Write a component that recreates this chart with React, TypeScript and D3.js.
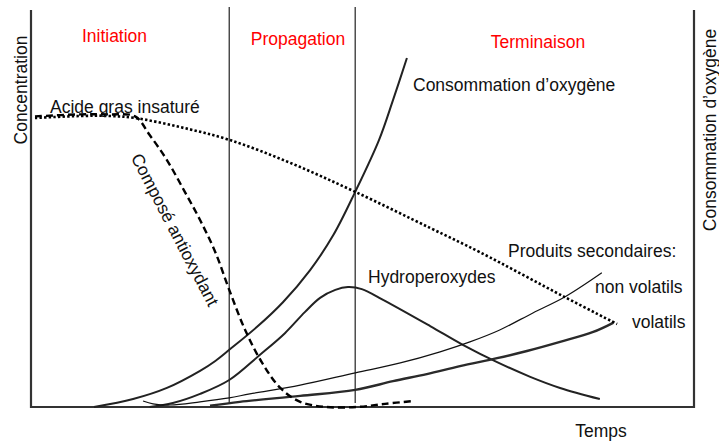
import { useEffect, useRef } from "react";
import * as d3 from "d3";

// time axis (0-100) and concentration axis (0-100)
const acideT = [0.6, 7.4, 11.9, 15.7, 22.5, 29.9, 39.1, 48.9, 60.2, 67.7, 80.5, 88.4];
const acideC = [72.8, 73.3, 73.3, 72.8, 70.5, 67.3, 61.5, 54.2, 45.1, 39.0, 27.7, 20.9];

const antioxT = [0.6, 7.4, 11.9, 15.7, 17.9, 20.5, 23.2, 25.5, 27.8, 29.9, 32.3, 34.8, 37.6, 40.6, 44.6, 49.2, 53.4, 57.6];
const antioxC = [73.2, 73.7, 73.7, 73.2, 68.5, 62.2, 54.2, 47.1, 39.0, 29.5, 19.4, 11.3, 4.8, 1.3, 0, 0, 0.8, 1.5];

const oxygenT = [9.5, 15.4, 20.5, 25.5, 27.8, 29.9, 34.1, 38.0, 42.1, 45.6, 48.9, 52.5, 54.6, 56.7];
const oxygenC = [0, 2.0, 4.8, 9.1, 11.6, 14.4, 20.2, 26.4, 34.5, 43.3, 54.2, 67.3, 77.3, 87.9];

const hydroT = [17.9, 21.4, 25.5, 29.9, 34.5, 38.3, 41.3, 43.6, 45.9, 47.8, 49.9, 53.1, 60.2, 65.2, 70.3, 75.3, 79.8, 85.8];
const hydroC = [0, 1.0, 3.3, 6.8, 13.1, 18.6, 23.9, 27.5, 29.5, 30.2, 29.7, 27.0, 20.4, 15.6, 11.3, 7.6, 4.8, 2.0];

const nonVolT = [16.9, 18.4, 21.0, 25.5, 29.9, 33.0, 40.6, 48.9, 55.7, 61.7, 66.2, 70.7, 75.7, 80.5, 86.1];
const nonVolC = [1.5, 0.8, 0.5, 1.3, 2.3, 3.3, 5.5, 8.6, 11.1, 13.9, 16.4, 19.4, 23.7, 27.7, 33.8];

const volT = [27.0, 31.5, 40.6, 48.9, 54.6, 59.7, 64.7, 70.3, 74.8, 79.8, 84.8, 87.8];
const volC = [0.3, 1.3, 2.8, 4.3, 6.5, 8.3, 10.3, 12.3, 14.1, 16.4, 18.9, 21.2];

const phaseBounds = [29.9, 48.9];
const phaseNames = ["Initiation", "Propagation", "Terminaison"];

export default function App() {
  const svgRef = useRef<SVGSVGElement>(null);

  useEffect(() => {
    if (!svgRef.current) return;
    const svg = d3.select(svgRef.current);
    svg.selectAll("*").remove();

    const left = 31;
    const right = 694;
    const top = 10;
    const bottom = 407;
    const font = "'Liberation Sans', Arial, sans-serif";

    const x = d3.scaleLinear().domain([0, 100]).range([left, right]);
    const y = d3.scaleLinear().domain([0, 100]).range([bottom, top]);

    const line = d3
      .line<[number, number]>()
      .x((d) => x(d[0]))
      .y((d) => Math.min(y(d[1]), bottom))
      .curve(d3.curveCatmullRom.alpha(0.5));

    const zip = (a: number[], b: number[]) => a.map((v, i) => [v, b[i]] as [number, number]);

    // phase dividers
    phaseBounds.forEach((b) => {
      svg.append("line")
        .attr("x1", x(b)).attr("x2", x(b))
        .attr("y1", 7).attr("y2", bottom - 4)
        .attr("stroke", "#333").attr("stroke-width", 1.3);
    });

    // frame: left, bottom, right axes
    svg.append("path")
      .attr("d", `M${left},${top}V${bottom}H${right}V${top}`)
      .attr("fill", "none")
      .attr("stroke", "#333")
      .attr("stroke-width", 2.2);

    const series = [
      { t: oxygenT, c: oxygenC, w: 2, col: "#222", dash: null },
      { t: hydroT, c: hydroC, w: 2, col: "#222", dash: null },
      { t: nonVolT, c: nonVolC, w: 1.2, col: "#111", dash: null },
      { t: volT, c: volC, w: 2.4, col: "#2a2a2a", dash: null },
      { t: acideT, c: acideC, w: 2.6, col: "#000", dash: "2.4,2.2" },
      { t: antioxT, c: antioxC, w: 2.4, col: "#000", dash: "7,4" },
    ];
    series.forEach((s) => {
      svg.append("path")
        .attr("d", line(zip(s.t, s.c)))
        .attr("fill", "none")
        .attr("stroke", s.col)
        .attr("stroke-width", s.w)
        .attr("stroke-dasharray", s.dash);
    });

    // phase labels
    const phaseX = [114.5, 298, 538];
    const phaseY = [42, 45, 48];
    phaseNames.forEach((n, i) => {
      svg.append("text")
        .attr("x", phaseX[i]).attr("y", phaseY[i])
        .attr("text-anchor", "middle")
        .attr("fill", "#ff0000")
        .attr("font-family", font).attr("font-size", 17.5)
        .text(n);
    });

    const labels: [string, number, number, string][] = [
      ["Consommation d\u2019oxygène", 413, 91, "start"],
      ["Acide gras insaturé", 50, 113, "start"],
      ["Hydroperoxydes", 368, 283, "start"],
      ["Produits secondaires:", 508, 257, "start"],
      ["non volatils", 595, 293, "start"],
      ["volatils", 632, 328, "start"],
      ["Temps", 601, 437, "middle"],
    ];
    labels.forEach(([t, lx, ly, anchor]) => {
      svg.append("text")
        .attr("x", lx).attr("y", ly)
        .attr("text-anchor", anchor)
        .attr("fill", "#111")
        .attr("font-family", font).attr("font-size", 17.5)
        .text(t);
    });

    // rotated labels
    const rotated: [string, number, number, number, string][] = [
      ["Concentration", 27, 90, -90, "middle"],
      ["Consommation d\u2019oxygène", 716, 130, -90, "middle"],
      ["Composé antioxydant", 130.5, 157.4, 62.5, "start"],
    ];
    rotated.forEach(([t, rx, ry, a, anchor]) => {
      svg.append("text")
        .attr("transform", `translate(${rx},${ry}) rotate(${a})`)
        .attr("text-anchor", anchor)
        .attr("fill", "#111")
        .attr("font-family", font).attr("font-size", 17.5)
        .text(t);
    });
  }, []);

  return (
    <div style={{ position: "absolute", left: 0, top: 0 }}>
      <svg ref={svgRef} width={719} height={443} style={{ display: "block", background: "#fff" }} />
    </div>
  );
}
